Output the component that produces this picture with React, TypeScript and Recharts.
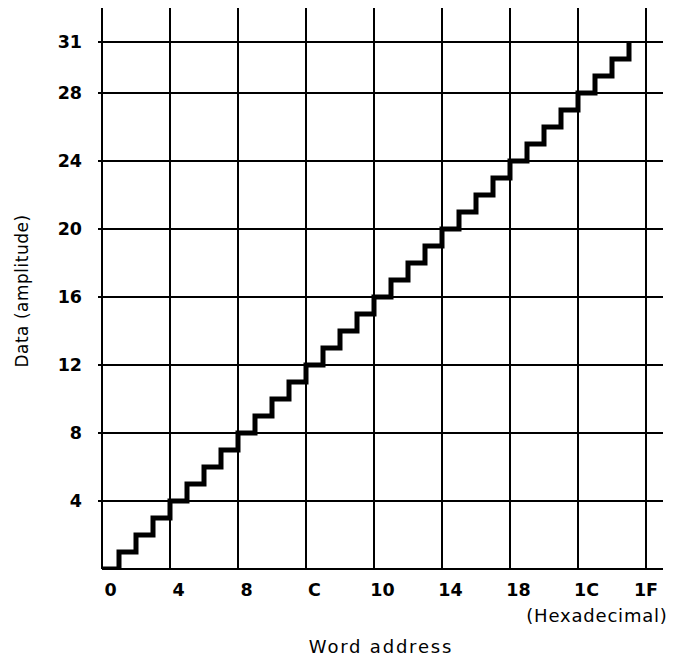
import React from 'react';
import { LineChart, Line, XAxis, YAxis, ReferenceLine } from 'recharts';

// word address (decimal) and the stored amplitude at each address
const addresses = [
  0, 1, 2, 3, 4, 5, 6, 7, 8, 9, 10, 11, 12, 13, 14, 15,
  16, 17, 18, 19, 20, 21, 22, 23, 24, 25, 26, 27, 28, 29, 30, 31,
];
const amplitudes = [
  0, 1, 2, 3, 4, 5, 6, 7, 8, 9, 10, 11, 12, 13, 14, 15,
  16, 17, 18, 19, 20, 21, 22, 23, 24, 25, 26, 27, 28, 29, 30, 31,
];

// x tick labels sit in the middle of each word cell
const xTickValues = [0.5, 4.5, 8.5, 12.5, 16.5, 20.5, 24.5, 28.5, 32];
const xTickLabels = ['0', '4', '8', 'C', '10', '14', '18', '1C', '1F'];
const yTicks = [4, 8, 12, 16, 20, 24, 28, 31];

const gridX = [4, 8, 12, 16, 20, 24, 28, 32];
const gridY = [4, 8, 12, 16, 20, 24, 28, 31];

const data = addresses.map((a, i) => ({ address: a, value: amplitudes[i] }));

const tickFont = { fill: '#000', fontSize: 17.5, fontWeight: 700, fontFamily: 'DejaVu Sans' };
const labelFont = 'DejaVu Sans';

const App: React.FC = () => {
  return (
    <div style={{ position: 'absolute', left: 0, top: 0, width: 681, height: 657, background: '#fff' }}>
      <LineChart width={681} height={657} data={data} margin={{ top: 8, right: 18, bottom: 58, left: 42 }}>
        <XAxis
          dataKey="address"
          type="number"
          domain={[0, 33]}
          ticks={xTickValues}
          interval={0}
          tickFormatter={(v: number) => xTickLabels[xTickValues.indexOf(v)] ?? ''}
          tick={tickFont}
          tickLine={false}
          tickSize={0}
          tickMargin={15}
          height={30}
          axisLine={{ stroke: '#000', strokeWidth: 2 }}
          allowDataOverflow
        />
        <YAxis
          type="number"
          domain={[0, 33]}
          ticks={yTicks}
          interval={0}
          tick={tickFont}
          tickLine={{ stroke: '#000', strokeWidth: 2 }}
          tickSize={4}
          tickMargin={16}
          width={60}
          axisLine={{ stroke: '#000', strokeWidth: 2 }}
          allowDataOverflow
        />
        {gridX.map((x) => (
          <ReferenceLine key={`gx-${x}`} x={x} stroke="#000" strokeWidth={2} />
        ))}
        {gridY.map((y) => (
          <ReferenceLine key={`gy-${y}`} y={y} stroke="#000" strokeWidth={2} />
        ))}
        <Line
          dataKey="value"
          type="stepAfter"
          stroke="#000"
          strokeWidth={5}
          strokeLinejoin="miter"
          dot={false}
          activeDot={false}
          isAnimationActive={false}
        />
      </LineChart>
      <svg width={681} height={657} style={{ position: 'absolute', left: 0, top: 0, pointerEvents: 'none' }}>
        <text
          x={22}
          y={291}
          transform="rotate(-90 22 291)"
          textAnchor="middle"
          dominantBaseline="central"
          fontFamily={labelFont}
          fontSize={17}
          letterSpacing={0.5}
          fill="#000"
        >
          Data (amplitude)
        </text>
        <text x={597} y={622} textAnchor="middle" fontFamily={labelFont} fontSize={18} letterSpacing={0.8} fill="#000">
          (Hexadecimal)
        </text>
        <text x={381} y={653} textAnchor="middle" fontFamily={labelFont} fontSize={18} letterSpacing={1.8} fill="#000">
          Word address
        </text>
      </svg>
    </div>
  );
};

export default App;
